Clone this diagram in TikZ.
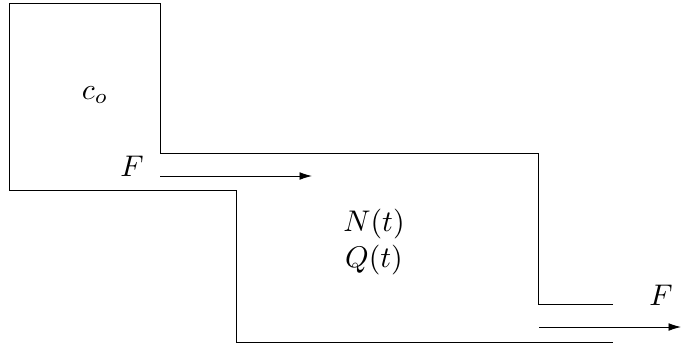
\documentclass[tikz,border=0pt]{standalone}
\usetikzlibrary{arrows.meta}
\newcommand{\bigtxt}[1]{\scalebox{1.15}{#1}}
\begin{document}
\begin{tikzpicture}[x=0.385pt,y=-0.385pt,
  wall/.style={line width=0.33pt,line join=miter},
  flow/.style={line width=0.33pt,-{Latex[length=4.8pt,width=3pt]}},
  lbl/.style={inner sep=0pt,anchor=base}]
\useasboundingbox (0,0) rectangle (681,345);
% vessel outline
\draw[wall] (613,304) -- (538,304) -- (538,153) -- (160,153) -- (160,3) -- (9,3)
  -- (9,190) -- (236,190) -- (236,342) -- (613,342);
% flow arrows
\coordinate (in1) at (160,176);
\coordinate (in2) at (312,176);
\coordinate (out1) at (539,327);
\coordinate (out2) at (681,327);
\draw[flow] (in1) -- (in2);
\draw[flow] (out1) -- (out2);
% labels
\node[lbl] (co) at (95,99) {\bigtxt{$c_o$}};
\node[lbl] (Fin) at (132,176) {\bigtxt{$F$}};
\node[lbl] (N) at (374,231) {\bigtxt{$N(t)$}};
\node[lbl] (Q) at (374,267) {\bigtxt{$Q(t)$}};
\node[lbl] (Fout) at (661,305) {\bigtxt{$F$}};
\end{tikzpicture}
\end{document}
